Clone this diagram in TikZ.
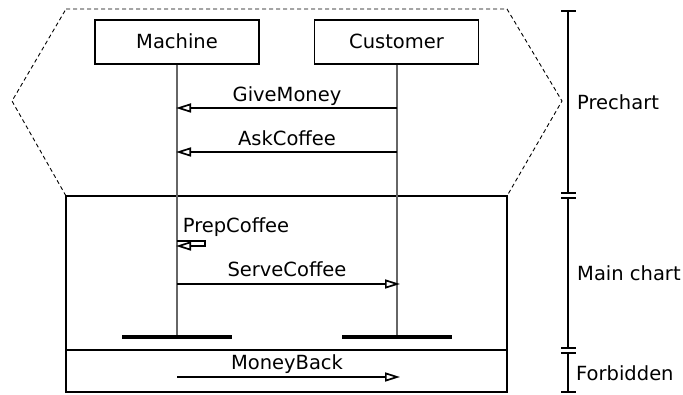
\documentclass[tikz,border=0pt]{standalone}
\usepackage{fontspec}
\setmainfont{DejaVu Sans}
\usetikzlibrary{arrows.meta}
\begin{document}
\begin{tikzpicture}[x=1pt,y=-1pt,
  every node/.style={font=\fontsize{19.5}{23}\selectfont, inner sep=0pt},
  actor/.style={draw, line width=1.1pt, minimum width=164pt, minimum height=44pt},
  lifeline/.style={draw=black!60, line width=1.4pt},
  msg/.style={line width=1.9pt, -{Triangle[open, length=15pt, width=9pt, line width=1.7pt]}},
  frame/.style={line width=1.1pt},
  hexa/.style={line width=0.9pt, dash pattern=on 4pt off 3pt},
  bar/.style={line width=4.5pt},
  brk/.style={line width=1.8pt},
  lbl/.style={anchor=base},
  sidelbl/.style={anchor=base west}]
\useasboundingbox (0,0) rectangle (683,395);
% main chart and forbidden frames
\draw[frame] (66,196) rectangle (507,350);
\draw[frame] (66,350) rectangle (507,392);
% prechart hexagon
\draw[hexa] (66,9) -- (507,9) -- (562,101) -- (507,196) -- (66,196) -- (12,101) -- cycle;
% actors
\node[actor] (m) at (177,42) {};
\node[actor] (c) at (396.5,42) {};
\node[lbl] (mt) at (177,49) {Machine};
\node[lbl] (ct) at (396.5,49) {Customer};
\coordinate (mend) at (177,337);
\coordinate (cend) at (397,337);
\draw[lifeline] (m.south) -- (mend);
\draw[lifeline] (c.south -| cend) -- (cend);
% messages
\coordinate (gm1) at (397,108); \coordinate (gm2) at (176,108);
\coordinate (ac1) at (397,152); \coordinate (ac2) at (176,152);
\coordinate (pc1) at (177,241); \coordinate (pc2) at (205,241);
\coordinate (pc3) at (205,246); \coordinate (pc4) at (176,246);
\coordinate (sc1) at (177,284); \coordinate (sc2) at (400,284);
\coordinate (mb1) at (177,377); \coordinate (mb2) at (400,377);
\draw[msg] (gm1) -- (gm2);
\draw[msg] (ac1) -- (ac2);
\draw[msg] (pc1) -- (pc2) -- (pc3) -- (pc4);
\draw[msg] (sc1) -- (sc2);
\draw[msg] (mb1) -- (mb2);
\node[lbl] (gml) at (287,101.5) {GiveMoney};
\node[lbl] (acl) at (287,145.5) {AskCoffee};
\node[lbl] (pcl) at (236,233) {PrepCoffee};
\node[lbl] (scl) at (287,277) {ServeCoffee};
\node[lbl] (mbl) at (287,370) {MoneyBack};
% end bars
\draw[bar] (122,337) -- (232,337);
\draw[bar] (342,337) -- (452,337);
% side brackets
\draw[brk] (568,11) -- (568,193);
\draw[brk] (561,11) -- (576,11);
\draw[brk] (561,193) -- (576,193);
\draw[brk] (568,198) -- (568,348);
\draw[brk] (561,198) -- (576,198);
\draw[brk] (561,348) -- (576,348);
\draw[brk] (568,353) -- (568,392);
\draw[brk] (561,353) -- (576,353);
\draw[brk] (561,392) -- (576,392);
\node[sidelbl] (pre) at (577,110) {Prechart};
\node[sidelbl] (main) at (577,281) {Main chart};
\node[sidelbl] (forb) at (576,381) {Forbidden};
\end{tikzpicture}
\end{document}
